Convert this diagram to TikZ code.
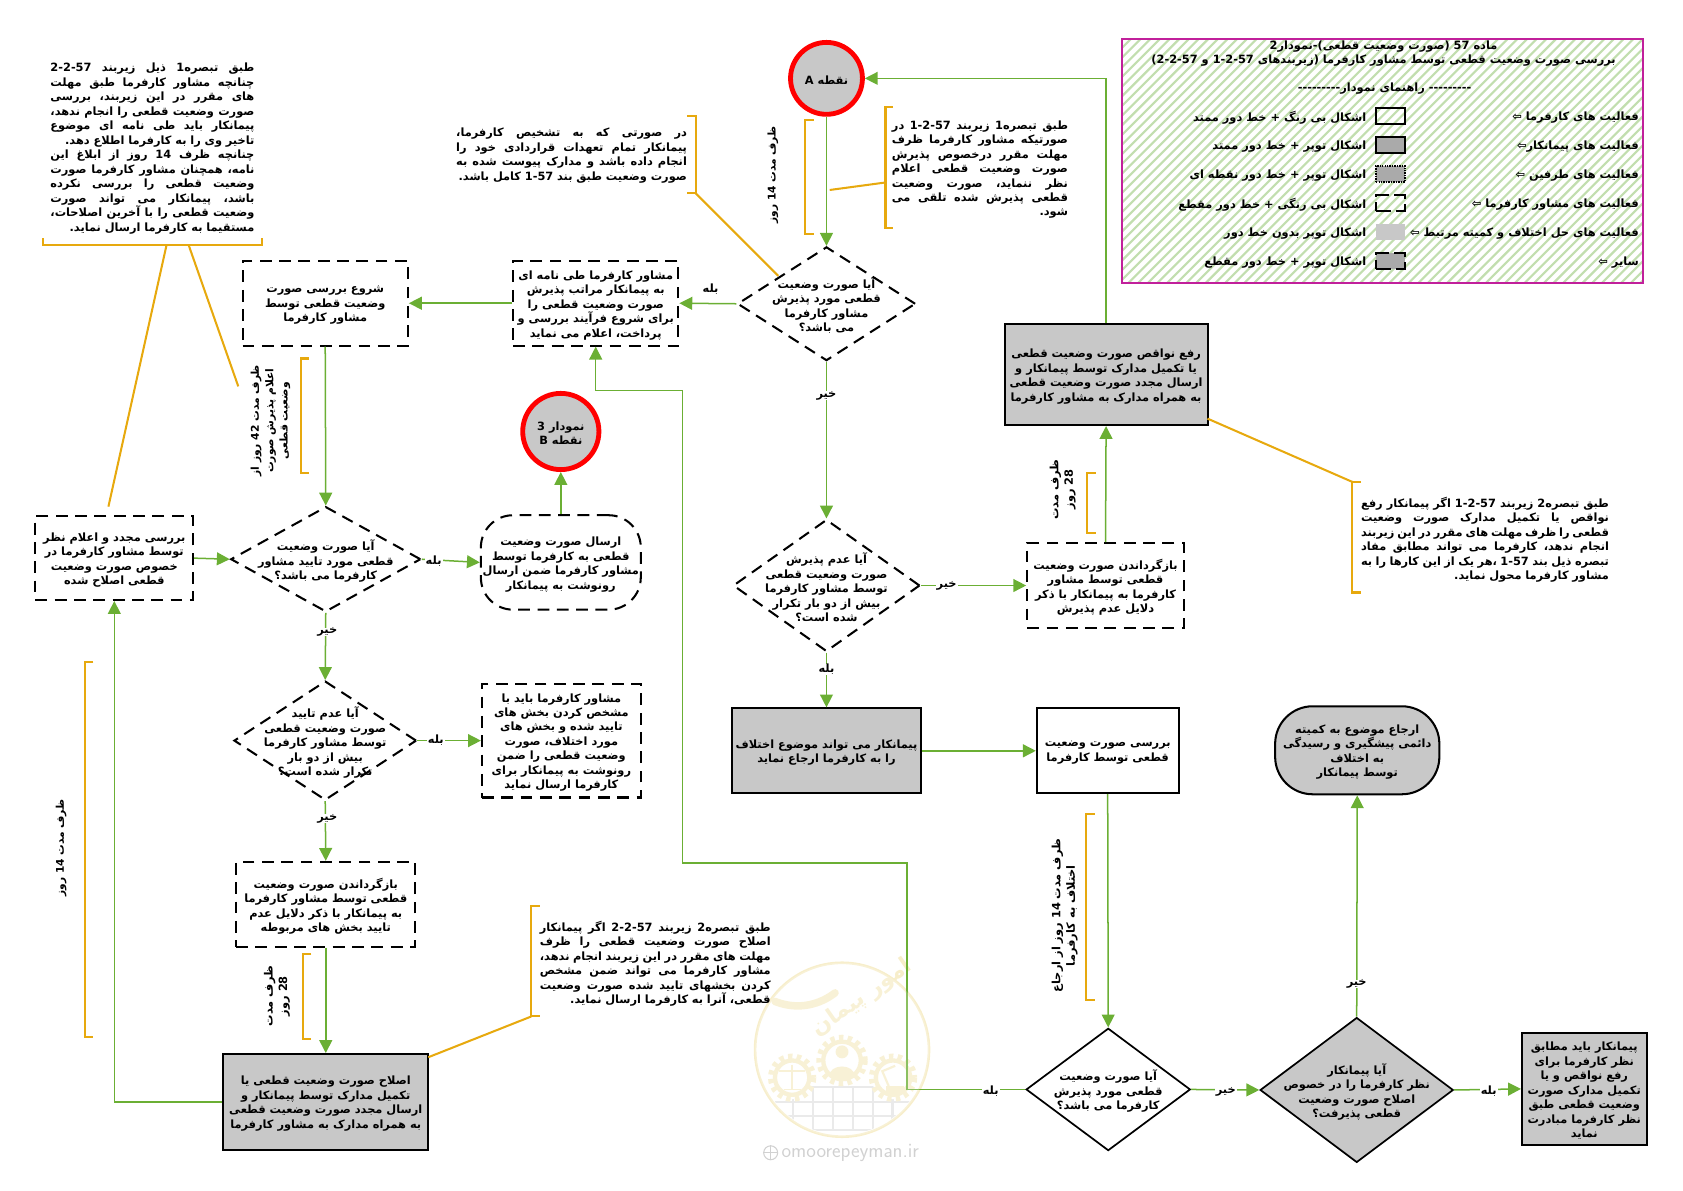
\documentclass[tikz,border=0pt]{standalone}
\usepackage{fontspec}
\usepackage{xcolor}
\usetikzlibrary{arrows.meta, shapes.geometric}
\TeXXeTstate=1
\newfontfamily\farsi[Script=Arabic]{DejaVu Sans}
\definecolor{flowgreen}{HTML}{6BAF34}
\definecolor{noteorange}{HTML}{E7A90E}
\definecolor{fillgray}{HTML}{C8C8C8}
\definecolor{framepink}{HTML}{C1209B}
\definecolor{hatchgreen}{HTML}{C2DEAF}
\definecolor{markpale}{HTML}{F7EECB}
\newcommand{\jline}[1]{\hbox to \hsize{\spaceskip=.3em plus 1fil minus .15em\relax #1}\par}
\newcommand{\sline}[1]{\hbox to \hsize{\hfill #1}\par}
\tikzset{
    every node/.style={font=\farsi\bfseries\fontsize{10.6}{13.5}\selectfont, inner sep=0pt},
    flow/.style={draw=flowgreen, line width=1.4pt, -{Triangle[length=12pt,width=12pt]}},
    bracket/.style={draw=noteorange, line width=1.9pt},
    intext/.style={align=center, yshift=-1.8pt},
    lift/.style={yshift=-1.8pt},
    dashbox/.style={draw, line width=1.9pt, dash pattern=on 11pt off 7pt},
    solidbox/.style={draw, line width=1.9pt},
    graybox/.style={solidbox, fill=fillgray},
    dashdiam/.style={diamond, aspect=1, draw, line width=1.9pt, dash pattern=on 11pt off 7pt},
    soliddiam/.style={diamond, aspect=1, draw, line width=1.6pt},
    spot/.style={circle, draw=red, line width=4.5pt, fill=fillgray, minimum size=67pt},
    swatch/.style={minimum width=27pt, minimum height=15pt},
    swplain/.style={swatch, draw, line width=1.6pt},
    swgray/.style={swatch, draw, line width=1.6pt, fill=fillgray!85!black},
    swdot/.style={swatch, draw, line width=1.3pt, densely dotted, fill=fillgray!85!black},
    swdash/.style={swatch, draw, line width=1.5pt, dash pattern=on 14pt off 5pt},
    swflat/.style={swatch, fill=fillgray},
    swgraydash/.style={swatch, draw, line width=1.5pt, dash pattern=on 14pt off 5pt, fill=fillgray!85!black},
    yesno/.style={fill=white, inner xsep=1pt, lift},
    turned/.style={rotate=90, align=center},
}

\begin{document}
\begin{tikzpicture}[x=1pt, y=-1pt]
    \useasboundingbox (0,0) rectangle (1568,1109);

    % watermark
    \begin{scope}
        \clip (784.5,978) circle (79);
        \foreach \wx in {739,757.5,...,832} {
            \draw[black!10, line width=2pt] (\wx,1013) -- (\wx,1053);
        }
        \foreach \wy in {1013,1026.5,1040,1053} {
            \draw[black!10, line width=2pt] (722,\wy) -- (848,\wy);
        }
    \end{scope}
    \draw[markpale, line width=2.5pt] (784.5,978) circle (81);
    \foreach \gx/\gy/\gr in {738/1004/16, 784.5/988/17.5, 832/1004/16} {
        \fill[white] (\gx,\gy) circle (\gr+4);
        \draw[markpale, line width=6pt, dash pattern=on 4pt off 4pt] (\gx,\gy) circle (\gr+3.5);
        \draw[markpale, line width=4pt] (\gx,\gy) circle (\gr);
    }
    \fill[markpale] (784.5,980) circle (6);
    \fill[markpale] (772,1003) .. controls (772,990) and (797,990) .. (797,1003) -- cycle;
    \draw[markpale, line width=1.5pt] (738,992) -- (738,1015) (726,998) -- (750,998) (730,1015) -- (746,1015);
    \fill[markpale] (825,1012) rectangle (842,1018);
    \draw[markpale, line width=2pt] (828,1012) -- (822,998) -- (834,993);
    \draw[markpale, line width=7pt, line cap=round] (722,933) .. controls (745,942) and (765,935) .. (778,925);
    \node[text=markpale, rotate=35, font=\farsi\bfseries\fontsize{21}{23}\selectfont] (markname) at (803,930) {\beginR امور پیمان\endR};
    \node[text=black!18, font=\sffamily\fontsize{19}{21}\selectfont, anchor=west] (marksite) at (728,1074) {omoorepeyman.ir};
    \node[circle, draw=black!18, line width=1pt, minimum size=13pt] (markglobe) at (718,1074) {};
    \draw[black!18, line width=.8pt] (markglobe.north) -- (markglobe.south) (markglobe.west) -- (markglobe.east);

    % legend frame
    \begin{scope}
        \clip (1045,36) rectangle (1531,264);
        \foreach \k in {1045,1054,...,1770} {
            \draw[hatchgreen, line width=2pt] (\k-228,264) -- (\k,36);
        }
    \end{scope}
    \draw[framepink, line width=2pt] (1045,36) rectangle (1531,264);
    \node[align=center] (legendtitle) at (1289,50) {\beginR ماده \beginL 57\endL{}  (صورت وضعیت قطعی)-نمودار2\endR\\[-1pt]\beginR بررسی صورت وضعیت قطعی توسط مشاور کارفرما (زیربندهای \beginL 1-2-57\endL{} و \beginL 2-2-57\endL{})\endR};
    \node[lift] (legendguide) at (1290,81) {\beginR --------- راهنمای نمودار---------\endR};
    \foreach \rowy/\who/\how/\kind in {
        108/{\beginR فعالیت های کارفرما ⇦\endR}/{\beginR اشکال بی رنگ + خط دور ممتد\endR}/swplain,
        135/{\beginR فعالیت های پیمانکار⇦\endR}/{\beginR اشکال توپر + خط دور ممتد\endR}/swgray,
        162/{\beginR فعالیت های طرفین ⇦\endR}/{\beginR اشکال توپر + خط دور نقطه ای\endR}/swdot,
        189/{\beginR فعالیت های مشاور کارفرما ⇦\endR}/{\beginR اشکال بی رنگی + خط دور مقطع\endR}/swdash,
        216/{\beginR فعالیت های حل اختلاف و کمیته مرتبط ⇦\endR}/{\beginR اشکال توپر بدون خط دور\endR}/swflat,
        243/{\beginR سایر  ⇦\endR}/{\beginR اشکال توپر + خط دور مقطع\endR}/swgraydash} {
        \node[anchor=east, lift] (who\rowy) at (1527,\rowy) {\who};
        \node[\kind] (sw\rowy) at (1295.5,\rowy) {};
        \node[anchor=east, lift] (how\rowy) at (1273,\rowy) {\how};
    }

    % boxes of the flow
    \node[spot, label={[intext]center:\beginR نقطه \beginL A\endL\endR}] (pointA) at (770,73) {};
    \node[spot, minimum size=71pt, label={[intext]center:\beginR نمودار 3\endR\\\beginR نقطه \beginL B\endL\endR}] (pointB) at (522.5,402) {};

    \node[dashdiam, minimum width=166pt, minimum height=106pt,
        label={[intext]center:\beginR آیا صورت وضعیت\endR\\\beginR قطعی مورد پذیرش\endR\\\beginR مشاور کارفرما\endR\\\beginR می باشد؟\endR}] (askfirst) at (770,283) {};
    \node[dashbox, minimum width=154pt, minimum height=79pt,
        label={[intext]center:\beginR مشاور کارفرما طی نامه ای\endR\\\beginR به پیمانکار مراتب پذیرش\endR\\\beginR صورت وضعیت قطعی را\endR\\\beginR برای شروع فرآیند بررسی و\endR\\\beginR پرداخت، اعلام می نماید\endR}] (letter) at (555,282.5) {};
    \node[dashbox, minimum width=154pt, minimum height=79pt,
        label={[intext]center:\beginR شروع بررسی صورت\endR\\\beginR وضعیت قطعی توسط\endR\\\beginR مشاور کارفرما\endR}] (start) at (303,282.5) {};

    \node[dashbox, minimum width=147pt, minimum height=78pt,
        label={[intext]center:\beginR بررسی مجدد و اعلام نظر\endR\\\beginR توسط مشاور کارفرما در\endR\\\beginR خصوص صورت وضعیت\endR\\\beginR قطعی اصلاح شده\endR}] (recheck) at (106.5,520) {};
    \node[dashdiam, minimum width=177pt, minimum height=98pt,
        label={[intext]center:\beginR آیا صورت وضعیت\endR\\\beginR قطعی مورد تایید مشاور\endR\\\beginR کارفرما می باشد؟\endR}] (askapprove) at (303.5,521) {};
    \node[dashbox, rounded corners=30pt, minimum width=149pt, minimum height=88pt,
        label={[intext]center:\beginR ارسال صورت وضعیت\endR\\\beginR قطعی به کارفرما توسط\endR\\\beginR مشاور کارفرما ضمن ارسال\endR\\\beginR رونوشت به پیمانکار\endR}] (send) at (522.5,524) {};

    \node[dashdiam, minimum width=170pt, minimum height=111pt,
        label={[intext]center:\beginR آیا عدم تایید\endR\\\beginR صورت وضعیت قطعی\endR\\\beginR توسط مشاور کارفرما\endR\\\beginR بیش از دو بار\endR\\\beginR تکرار شده است؟\endR}] (askreject) at (303,690) {};
    \node[dashbox, minimum width=148pt, minimum height=106pt,
        label={[intext]center:\beginR مشاور کارفرما باید با\endR\\\beginR مشخص کردن بخش های\endR\\\beginR تایید شده و بخش های\endR\\\beginR مورد اختلاف، صورت\endR\\\beginR وضعیت قطعی را ضمن\endR\\\beginR رونوشت به پیمانکار برای\endR\\\beginR کارفرما ارسال نماید\endR}] (parts) at (523,690) {};
    \node[dashbox, minimum width=167pt, minimum height=79pt,
        label={[intext]center:\beginR بازگرداندن صورت وضعیت\endR\\\beginR قطعی توسط مشاور کارفرما\endR\\\beginR به پیمانکار با ذکر دلایل عدم\endR\\\beginR تایید بخش های مربوطه\endR}] (giveback) at (303.5,842.5) {};
    \node[graybox, minimum width=191pt, minimum height=89pt,
        label={[intext]center:\beginR اصلاح صورت وضعیت قطعی یا\endR\\\beginR تکمیل مدارک توسط پیمانکار و\endR\\\beginR ارسال مجدد صورت وضعیت قطعی\endR\\\beginR به همراه مدارک به مشاور کارفرما\endR}] (correct) at (303.5,1026.5) {};

    \node[dashdiam, minimum width=174pt, minimum height=123pt,
        label={[intext]center:\beginR آیا عدم پذیرش\endR\\\beginR صورت وضعیت قطعی\endR\\\beginR توسط مشاور کارفرما\endR\\\beginR بیش از دو بار تکرار\endR\\\beginR شده است؟\endR}] (askrefuse) at (770,545.5) {};
    \node[dashbox, minimum width=146pt, minimum height=79pt,
        label={[intext]center:\beginR بازگرداندن صورت وضعیت\endR\\\beginR قطعی توسط مشاور\endR\\\beginR کارفرما به پیمانکار با ذکر\endR\\\beginR دلایل عدم پذیرش\endR}] (returnbox) at (1030,545.5) {};
    \node[graybox, minimum width=189pt, minimum height=94pt,
        label={[intext]center:\beginR رفع نواقص صورت وضعیت قطعی\endR\\\beginR یا تکمیل مدارک توسط پیمانکار و\endR\\\beginR ارسال مجدد صورت وضعیت قطعی\endR\\\beginR به همراه مدارک به مشاور کارفرما\endR}] (fix) at (1030.5,349) {};
    \node[graybox, minimum width=176pt, minimum height=79pt,
        label={[intext]center:\beginR پیمانکار می تواند موضوع اختلاف\endR\\\beginR را به کارفرما ارجاع نماید\endR}] (dispute) at (770,699.5) {};
    \node[solidbox, minimum width=132pt, minimum height=79pt,
        label={[intext]center:\beginR بررسی صورت وضعیت\endR\\\beginR قطعی توسط کارفرما\endR}] (review) at (1032,699.5) {};
    \node[soliddiam, minimum width=153pt, minimum height=114pt,
        label={[intext]center:\beginR آیا صورت وضعیت\endR\\\beginR قطعی مورد پذیرش\endR\\\beginR کارفرما می باشد؟\endR}] (askowner) at (1032.5,1015) {};
    \node[soliddiam, fill=fillgray, minimum width=180pt, minimum height=135pt,
        label={[intext]center:\beginR آیا پیمانکار\endR\\\beginR نظر کارفرما را در خصوص\endR\\\beginR اصلاح صورت وضعیت\endR\\\beginR قطعی پذیرفت؟\endR}] (askcontractor) at (1264,1015.5) {};
    \node[graybox, minimum width=116pt, minimum height=105pt,
        label={[intext]center:\beginR پیمانکار باید مطابق\endR\\\beginR نظر کارفرما برای\endR\\\beginR رفع نواقص و یا\endR\\\beginR تکمیل مدارک صورت\endR\\\beginR وضعیت قطعی طبق\endR\\\beginR نظر کارفرما مبادرت\endR\\\beginR نماید\endR}] (comply) at (1476,1014.5) {};
    \node[graybox, rounded corners=35pt, minimum width=153pt, minimum height=82pt,
        label={[intext]center:\beginR ارجاع موضوع به کمیته\endR\\\beginR دائمی پیشگیری و رسیدگی\endR\\\beginR به اختلاف\endR\\\beginR توسط پیمانکار\endR}] (committee) at (1264.5,699) {};

    % green connectors
    \draw[flow] (pointA) -- (askfirst.north);
    \draw[flow] (askfirst.west) -- (letter.east);
    \draw[flow] (letter.west) -- (start.east);
    \draw[flow] (start.south) -- (askapprove.north);
    \draw[flow] (recheck.east) -- (askapprove.west);
    \draw[flow] (askapprove.east) -- (send.west);
    \draw[flow] (send.north) -- (pointB);
    \draw[flow] (askapprove.south) -- (askreject.north);
    \draw[flow] (askreject.east) -- (parts.west);
    \draw[flow] (askreject.south) -- (giveback.north);
    \draw[flow] (giveback.south) -- (correct.north);
    \draw[flow] (correct.west) -| (recheck.south);
    \draw[flow] (askfirst.south) -- (askrefuse.north);
    \draw[flow] (askrefuse.east) -- (returnbox.west);
    \draw[flow] (returnbox.north) -- (fix.south);
    \draw[flow] (fix.north) |- (pointA);
    \draw[flow] (askrefuse.south) -- (dispute.north);
    \draw[flow] (dispute.east) -- (review.west);
    \draw[flow] (review.south) -- (askowner.north);
    \coordinate (upa) at (845,1015);
    \coordinate (upb) at (845,804);
    \coordinate (upc) at (636,804);
    \coordinate (upd) at (636,364);
    \coordinate (upe) at (555,364);
    \draw[flow] (askowner.west) -- (upa) -- (upb) -- (upc) -- (upd) -- (upe) -- (letter.south);
    \draw[flow] (askowner.east) -- (askcontractor.west);
    \draw[flow] (askcontractor.north) -- (committee.south);
    \draw[flow] (askcontractor.east) -- (comply.west);

    % yes and no on the connectors
    \node[lift] (yesa) at (662,268) {بله};
    \foreach \name/\px/\py/\word in {
        noa/770/367/خیر, nob/882/544/خیر, yesb/770/622/بله,
        yesc/404/521/بله, noc/305/587/خیر, yesd/406/688/بله, nod/305/761/خیر,
        yese/923/1015/بله, noe/1142/1015/خیر, nof/1264/915/خیر, yesf/1387/1015/بله} {
        \node[yesno] (\name) at (\px,\py) {\beginR\word\endR};
    }

    % orange brackets
    \foreach \xa/\xb/\ya/\yb in {750/758/112/218, 825/832/100/212, 648/640/108/180, 280/288/334/441,
        79/87/617/966, 282/290/889/968, 495/503/844/947, 1013/1021/441/497, 1260/1268/449/552, 1012/1020/758/932} {
        \draw[bracket] (\xb,\ya) -- (\xa,\ya) -- (\xa,\yb) -- (\xb,\yb);
    }
    \draw[bracket] (40,222) -- (40,228) -- (244,228) -- (244,222);
    \coordinate (tla) at (155,229);
    \coordinate (tlb) at (101,472);
    \coordinate (tlc) at (176,229);
    \coordinate (tld) at (222,360);
    \draw[bracket] (tla) -- (tlb);
    \draw[bracket] (tlc) -- (tld);
    \coordinate (ara) at (825,170);
    \coordinate (arb) at (773,177);
    \draw[bracket] (ara) -- (arb);
    \coordinate (ala) at (648,180);
    \coordinate (alb) at (725,257);
    \draw[bracket] (ala) -- (alb);
    \coordinate (bna) at (495,947);
    \coordinate (bnb) at (399,985);
    \draw[bracket] (bna) -- (bnb);
    \coordinate (rna) at (1125,390);
    \coordinate (rnb) at (1260,449);
    \draw[bracket] (rna) -- (rnb);

    % notes
    \node[text width=190pt] (notetl) at (142,138.5) {
        \jline{\beginR طبق تبصره1 ذیل زیربند \beginL 2-2-57\endL\endR}
        \jline{\beginR چنانچه مشاور کارفرما طبق مهلت\endR}
        \jline{\beginR های مقرر در این زیربند، بررسی\endR}
        \jline{\beginR صورت وضعیت قطعی را انجام ندهد،\endR}
        \jline{\beginR پیمانکار باید طی نامه ای موضوع\endR}
        \sline{\beginR تاخیر وی را به کارفرما اطلاع دهد.\endR}
        \jline{\beginR چنانچه ظرف 14 روز از ابلاغ این\endR}
        \jline{\beginR نامه، همچنان مشاور کارفرما صورت\endR}
        \jline{\beginR وضعیت قطعی را بررسی نکرده\endR}
        \jline{\beginR باشد، پیمانکار می تواند صورت\endR}
        \jline{\beginR وضعیت قطعی را با آخرین اصلاحات،\endR}
        \sline{\beginR مستقیما به کارفرما ارسال نماید.\endR}};
    \node[text width=164pt] (notea) at (913,158) {
        \jline{\beginR طبق تبصره1 زیربند \beginL 1-2-57\endL{} در\endR}
        \jline{\beginR صورتیکه مشاور کارفرما ظرف\endR}
        \jline{\beginR مهلت مقرر درخصوص پذیرش\endR}
        \jline{\beginR صورت وضعیت قطعی اعلام\endR}
        \jline{\beginR نظر ننماید، صورت وضعیت\endR}
        \jline{\beginR قطعی پذیرش شده تلقی می\endR}
        \sline{\beginR شود.\endR}};
    \node[text width=215pt] (noteb) at (532.5,145) {
        \jline{\beginR در صورتی که به تشخیص کارفرما،\endR}
        \jline{\beginR پیمانکار تمام تعهدات قراردادی خود را\endR}
        \jline{\beginR انجام داده باشد و مدارک پیوست شده به\endR}
        \sline{\beginR صورت وضعیت طبق بند \beginL 1-57\endL{} کامل باشد.\endR}};
    \node[text width=215pt] (notec) at (610.5,898) {
        \jline{\beginR طبق تبصره2 زیربند \beginL 2-2-57\endL{} اگر پیمانکار\endR}
        \jline{\beginR اصلاح صورت وضعیت قطعی را ظرف\endR}
        \jline{\beginR مهلت های مقرر در این زیربند انجام ندهد،\endR}
        \jline{\beginR مشاور کارفرما می تواند ضمن مشخص\endR}
        \jline{\beginR کردن بخشهای تایید شده صورت وضعیت\endR}
        \sline{\beginR قطعی، آنرا به کارفرما ارسال نماید.\endR}};
    \node[text width=231pt] (noted) at (1383.5,503) {
        \jline{\beginR طبق تبصره2 زیربند \beginL 1-2-57\endL{} اگر پیمانکار رفع\endR}
        \jline{\beginR نواقص یا تکمیل مدارک صورت وضعیت\endR}
        \jline{\beginR قطعی را ظرف مهلت های مقرر در این زیربند\endR}
        \jline{\beginR انجام ندهد، کارفرما می تواند مطابق مفاد\endR}
        \jline{\beginR تبصره ذیل بند \beginL 1-57\endL{} ،هر یک از این کارها را به\endR}
        \sline{\beginR مشاور کارفرما محول نماید.\endR}};

    % time limits, turned
    \node[turned, font=\farsi\bfseries\fontsize{9.9}{13.5}\selectfont] (limita) at (720,163) {\beginR ظرف مدت 14 روز\endR};
    \node[turned, font=\farsi\bfseries\fontsize{10}{13.5}\selectfont] (limitb) at (252,392) {\beginR ظرف مدت 42 روز از\endR\\\beginR اعلام پذیرش صورت\endR\\\beginR وضعیت قطعی\endR};
    \node[turned, font=\farsi\bfseries\fontsize{9.9}{13.5}\selectfont] (limitc) at (57,790) {\beginR ظرف مدت 14 روز\endR};
    \node[turned] (limitd) at (258,928) {\beginR ظرف مدت\endR\\\beginR 28 روز\endR};
    \node[turned] (limite) at (990,456) {\beginR ظرف مدت\endR\\\beginR 28 روز\endR};
    \node[turned] (limitf) at (992,853) {\beginR ظرف مدت 14 روز از ارجاع\endR\\\beginR اختلاف به کارفرما\endR};

    % the watermark lies faintly over what passes it
    \fill[white, opacity=.22] (784.5,978) circle (81);
\end{tikzpicture}
\end{document}
